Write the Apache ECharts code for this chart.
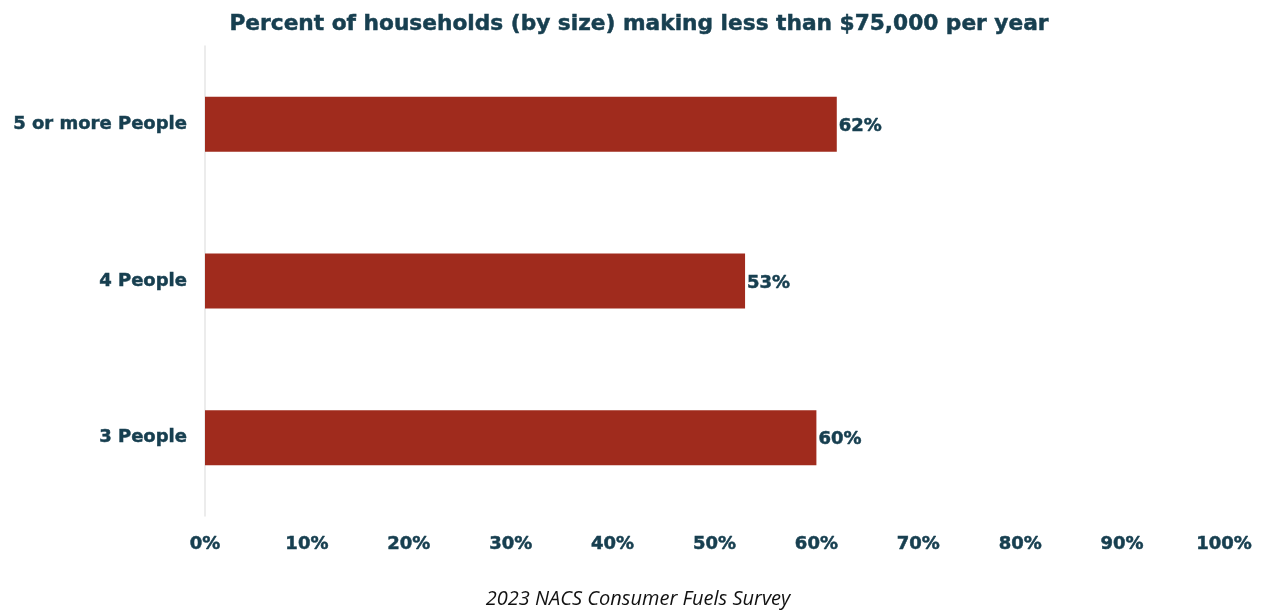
<!DOCTYPE html>
<html>
<head>
<meta charset="utf-8">
<script src="https://cdn.jsdelivr.net/npm/echarts@6/dist/echarts.min.js"></script>
<style>
  html, body { margin: 0; padding: 0; background: #ffffff; }
  #chart { width: 1265px; height: 612px; }
</style>
</head>
<body>
<div id="chart"></div>
<script>
// Household size categories, listed bottom to top as drawn on the y axis
const categories = ['3 People', '4 People', '5 or more People'];
// Percent of households earning under $75,000
const values = [60, 53, 62];
const xTicks = [0, 10, 20, 30, 40, 50, 60, 70, 80, 90, 100];

const textColor = '#173f50';
const barColor = '#a02b1d';
const fontFamily = '"DejaVu Sans", sans-serif';
// a thin stroke in the text colour gives the labels a heavier weight
const heavy = { textBorderColor: textColor, textBorderWidth: 0.5 };

const chart = echarts.init(document.getElementById('chart'), null, { renderer: 'canvas' });

chart.setOption({
  backgroundColor: '#ffffff',
  animation: false,
  title: [
    {
      text: 'Percent of households (by size) making less than $75,000 per year',
      left: 634,
      top: 8,
      textAlign: 'center',
      textStyle: Object.assign({ fontFamily, fontWeight: 'bold', fontSize: 21.7, color: textColor }, heavy)
    },
    {
      text: '2023 NACS Consumer Fuels Survey',
      left: 633,
      top: 584,
      textAlign: 'center',
      textStyle: { fontFamily: '"Open Sans", sans-serif', fontStyle: 'italic', fontWeight: 400, fontSize: 20, color: '#111111' }
    }
  ],
  grid: { left: 205, right: 41, top: 46, bottom: 96, containLabel: false },
  xAxis: {
    type: 'value',
    min: xTicks[0],
    max: xTicks[xTicks.length - 1],
    interval: 10,
    axisLine: { show: false },
    axisTick: { show: false },
    splitLine: { show: false },
    axisLabel: Object.assign({
      margin: 19,
      formatter: v => v + '%',
      fontFamily, fontWeight: 'bold', fontSize: 18, color: textColor
    }, heavy)
  },
  yAxis: {
    type: 'category',
    data: categories,
    axisLine: { show: true, lineStyle: { color: '#e6e6e6', width: 1.5 } },
    axisTick: { show: false },
    axisLabel: Object.assign({
      margin: 18,
      fontFamily, fontWeight: 'bold', fontSize: 18, color: textColor
    }, heavy)
  },
  series: [{
    type: 'bar',
    data: values,
    barWidth: 55,
    itemStyle: { color: barColor },
    label: Object.assign({
      show: true,
      position: 'right',
      distance: 2,
      offset: [0, 2],
      formatter: p => p.value + '%',
      fontFamily, fontWeight: 'bold', fontSize: 18, color: textColor
    }, heavy)
  }]
});
</script>
</body>
</html>
